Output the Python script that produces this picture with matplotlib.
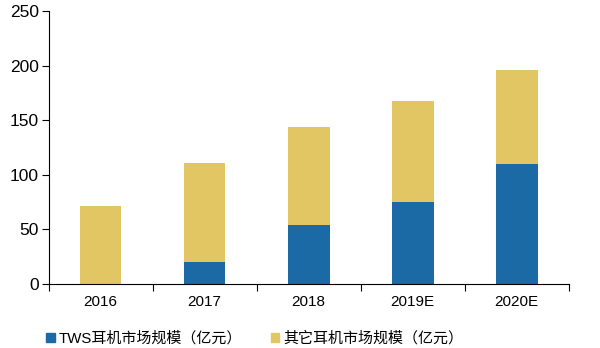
import numpy as np
import matplotlib.pyplot as plt
from matplotlib.patches import Patch

plt.rcParams['font.family'] = ['Liberation Sans', 'Noto Sans CJK SC', 'DejaVu Sans']

years = ['2016', '2017', '2018', '2019E', '2020E']
tws = [0, 20, 54, 75, 110]
other = [71, 90.5, 90, 93, 86]
label_tws = 'TWS耳机市场规模（亿元）'
label_other = '其它耳机市场规模（亿元）'

c_tws = '#1b6aa5'
c_other = '#e3c664'

fig = plt.figure(figsize=(6, 3.48), dpi=100)
ax = fig.add_axes([0.081, 0.185, 0.867, 0.782])

x = np.arange(len(years))
ax.bar(x, tws, width=0.4, color=c_tws)
ax.bar(x, other, width=0.4, bottom=tws, color=c_other)

ax.set_xlim(-0.5, len(years) - 0.5)
ax.set_ylim(0, 250)
ax.set_yticks(np.arange(0, 251, 50))
ax.set_xticks(x)
ax.set_xticklabels(years)
ax.set_xticks(np.arange(-0.5, len(years), 1), minor=True)
ax.tick_params(axis='x', which='major', length=0, pad=8, labelsize=11)
ax.tick_params(axis='x', which='minor', length=5, width=0.8)
ax.tick_params(axis='y', length=5, width=0.8, labelsize=12.5, pad=2)

for s in ['top', 'right']:
    ax.spines[s].set_visible(False)
for s in ['left', 'bottom']:
    ax.spines[s].set_linewidth(0.8)

handles = [Patch(color=c_tws, label=label_tws), Patch(color=c_other, label=label_other)]
fig.legend(handles=handles, loc='center', bbox_to_anchor=(0.425, 0.028), ncol=2,
           frameon=False, fontsize=10.8, handlelength=0.55, handleheight=0.55,
           handletextpad=0.3, columnspacing=1.9)

fig.savefig('out.png', dpi=100)
